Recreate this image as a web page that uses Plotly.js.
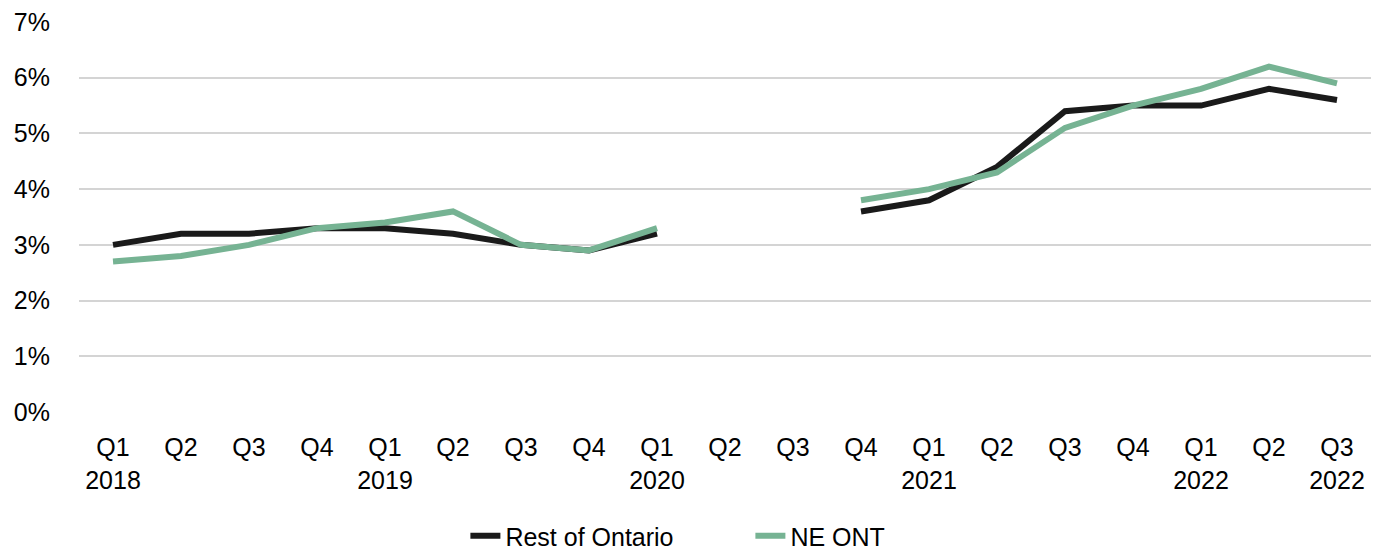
<!DOCTYPE html>
<html>
<head>
<meta charset="utf-8">
<script src="https://cdn.plot.ly/plotly-3.0.1.min.js"></script>
<style>html,body{margin:0;padding:0;background:#fff;}#chart{width:1381px;height:559px;}</style>
</head>
<body>
<div id="chart"></div>
<script>
var categories = ["Q1 2018","Q2 2018","Q3 2018","Q4 2018","Q1 2019","Q2 2019","Q3 2019","Q4 2019","Q1 2020","Q2 2020","Q3 2020","Q4 2020","Q1 2021","Q2 2021","Q3 2021","Q4 2021","Q1 2022","Q2 2022","Q3 2022"];
var tickLabels = ["Q1<br>2018","Q2","Q3","Q4","Q1<br>2019","Q2","Q3","Q4","Q1<br>2020","Q2","Q3","Q4","Q1<br>2021","Q2","Q3","Q4","Q1<br>2022","Q2","Q3<br>2022"];
var restOfOntario = [3.0,3.2,3.2,3.3,3.3,3.2,3.0,2.9,3.2,null,null,3.6,3.8,4.4,5.4,5.5,5.5,5.8,5.6];
var neOnt = [2.7,2.8,3.0,3.3,3.4,3.6,3.0,2.9,3.3,null,null,3.8,4.0,4.3,5.1,5.5,5.8,6.2,5.9];

var font = "Liberation Sans, Arial, sans-serif";
var fs = 25;
var traces = [
  {x: categories, y: restOfOntario, type: "scatter", mode: "lines", name: "Rest of Ontario",
   line: {color: "#1a1a1a", width: 6}, connectgaps: false},
  {x: categories, y: neOnt, type: "scatter", mode: "lines", name: "NE ONT",
   line: {color: "#76b393", width: 6}, connectgaps: false}
];
var layout = {
  width: 1381, height: 559,
  margin: {l: 79, r: 10, t: 22, b: 147},
  paper_bgcolor: "#fff", plot_bgcolor: "#fff",
  font: {family: font, size: fs, color: "#000"},
  xaxis: {type: "category", tickmode: "array", tickvals: categories, ticktext: tickLabels,
          range: [-0.5, 18.5], automargin: false,
          showgrid: false, zeroline: false, showline: false, ticks: "", ticklen: 0,
          ticklabelstandoff: 18,
          tickfont: {family: font, size: fs, color: "#000"}},
  yaxis: {range: [0, 7], dtick: 1, tick0: 0, ticksuffix: "%", showgrid: true, automargin: false,
          gridcolor: "#d4d4d4", gridwidth: 2, zeroline: false, showline: false,
          tickfont: {family: font, size: fs, color: "#000"}, ticks: "", ticklabelstandoff: 28},
  showlegend: true,
  legend: {orientation: "h", x: 0.337, xanchor: "left", xref: "container",
           y: 0, yanchor: "bottom", yref: "container",
           entrywidth: 240, entrywidthmode: "pixels",
           font: {family: font, size: fs, color: "#000"}, tracegroupgap: 0}
};
Plotly.newPlot("chart", traces, layout, {displayModeBar: false, staticPlot: true});
</script>
</body>
</html>
